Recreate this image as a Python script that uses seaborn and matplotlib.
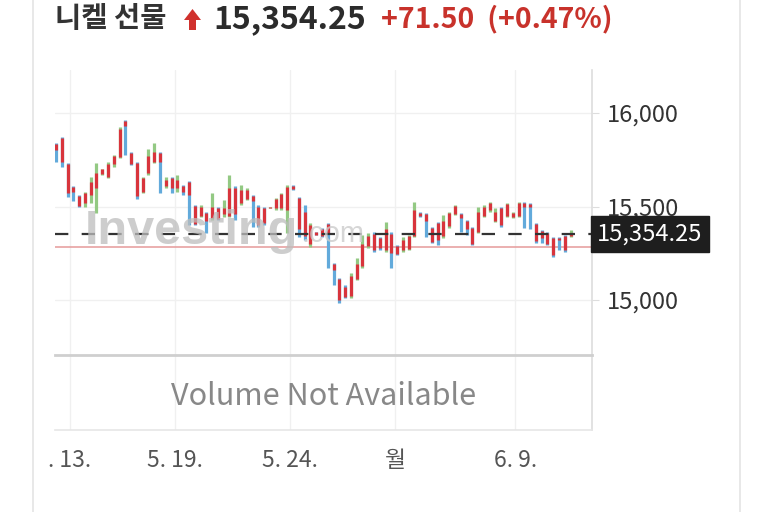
import numpy as np
import pandas as pd
import seaborn as sns
import matplotlib.pyplot as plt
from matplotlib.lines import Line2D
from matplotlib.patches import Polygon
from matplotlib.transforms import blended_transform_factory

# OHLC bars
highs = [15840, 15872, 15733, 15610, 15562, 15578, 15658, 15733, 15701, 15738,
         15775, 15925, 15963, 15791, 15738, 15658, 15808, 15840, 15791, 15658,
         15658, 15669, 15615, 15636, 15508, 15508, 15471, 15572, 15497, 15535,
         15669, 15610, 15615, 15599, 15562, 15508, 15497, 15500, 15545, 15572,
         15615, 15615, 15551, 15508, 15412, 15364, 15385, 15412, 15198, 15118,
         15080, 15144, 15225, 15348, 15358, 15364, 15337, 15417, 15364, 15294,
         15337, 15348, 15524, 15471, 15465, 15390, 15417, 15455, 15471, 15508,
         15465, 15428, 15390, 15497, 15508, 15524, 15492, 15497, 15519, 15471,
         15524, 15524, 15519, 15412, 15374, 15364, 15337, 15337, 15348, 15374]
lows = [15738, 15711, 15551, 15529, 15497, 15497, 15519, 15465, 15669, 15652,
        15711, 15759, 15775, 15722, 15540, 15572, 15669, 15733, 15572, 15599,
        15572, 15578, 15562, 15401, 15401, 15444, 15358, 15428, 15428, 15444,
        15444, 15428, 15508, 15535, 15390, 15390, 15401, 15490, 15481, 15481,
        15358, 15590, 15337, 15321, 15283, 15348, 15337, 15171, 15080, 14984,
        15011, 15011, 15107, 15171, 15278, 15257, 15267, 15257, 15171, 15241,
        15257, 15267, 15337, 15444, 15337, 15305, 15294, 15332, 15385, 15455,
        15364, 15348, 15294, 15358, 15444, 15471, 15417, 15390, 15444, 15440,
        15444, 15385, 15380, 15305, 15305, 15294, 15230, 15267, 15257, 15337]
opens = [15835, 15865, 15725, 15605, 15555, 15520, 15560, 15600, 15672, 15660,
         15730, 15765, 15955, 15785, 15735, 15580, 15680, 15740, 15785, 15610,
         15650, 15600, 15610, 15630, 15505, 15450, 15465, 15440, 15490, 15460,
         15450, 15600, 15520, 15540, 15555, 15500, 15490, 15492, 15490, 15490,
         15480, 15612, 15545, 15470, 15300, 15362, 15380, 15405, 15195, 15110,
         15070, 15020, 15110, 15180, 15290, 15355, 15330, 15270, 15355, 15290,
         15265, 15275, 15345, 15468, 15460, 15385, 15410, 15340, 15395, 15460,
         15460, 15420, 15385, 15365, 15450, 15480, 15425, 15490, 15450, 15445,
         15450, 15518, 15512, 15405, 15370, 15360, 15330, 15330, 15345, 15340]
closes = [15800, 15740, 15570, 15580, 15505, 15570, 15630, 15680, 15698, 15730,
          15770, 15915, 15930, 15730, 15555, 15650, 15770, 15790, 15740, 15640,
          15600, 15640, 15575, 15560, 15405, 15500, 15420, 15500, 15435, 15490,
          15600, 15460, 15590, 15590, 15530, 15400, 15410, 15498, 15540, 15565,
          15605, 15595, 15380, 15340, 15400, 15350, 15345, 15360, 15160, 15000,
          15015, 15130, 15190, 15300, 15340, 15265, 15280, 15380, 15250, 15245,
          15320, 15340, 15480, 15450, 15420, 15310, 15320, 15420, 15465, 15505,
          15440, 15380, 15300, 15470, 15500, 15520, 15470, 15400, 15515, 15465,
          15520, 15500, 15495, 15315, 15330, 15300, 15240, 15320, 15265, 15354.25]

tick_pos = [2.4, 20.6, 40.5, 58.7, 79.4]
tick_labels = [". 13.", "5. 19.", "5. 24.", "월", "6. 9."]
price_ticks = [15000, 15500, 16000]
last_price = 15354.25
prev_close = 15282.75

RED = "#d8343c"
BLUE = "#62aadb"
GREEN = "#93c983"
GRID = "#f0f0f0"

sns.set_style("white")
plt.rcParams['font.family'] = ['Noto Sans CJK KR', 'DejaVu Sans']

df = pd.DataFrame({"high": highs, "low": lows, "open": opens, "close": closes})
df["idx"] = np.arange(len(df))
df["up"] = df["close"] >= df["open"]

fig = plt.figure(figsize=(7.73, 5.12), dpi=100)
W, H = 773, 512

def box(x0, y0, x1, y1):
    return [x0 / W, 1 - y1 / H, (x1 - x0) / W, (y1 - y0) / H]

ax = fig.add_axes(box(55, 70, 592, 355))
axv = fig.add_axes(box(55, 355, 592, 430))

# bars: wick coloured by direction, body in red
up = df[df["up"]]
dn = df[~df["up"]]
ax.vlines(up["idx"], up["low"], up["high"], color=GREEN, lw=2.3, zorder=3)
ax.vlines(dn["idx"], dn["low"], dn["high"], color=BLUE, lw=2.3, zorder=3)
ax.vlines(df["idx"], df["open"], df["close"], color=RED, lw=2.3, zorder=4)

ax.axhline(prev_close, color="#e59a9a", lw=1.1, zorder=2)
ax.axhline(last_price, color="#333333", lw=1.6, ls=(0, (6, 6)), zorder=5)

xlim = (-0.17, 92.7)
ax.set_xlim(*xlim)
ax.set_ylim(14706, 16230)
ax.set_yticks(price_ticks)
ax.set_yticklabels([f"{v:,}" for v in price_ticks])
ax.yaxis.tick_right()
ax.tick_params(axis="y", length=5, color="#dddddd", labelsize=17,
               labelcolor="#333333", pad=6)
ax.set_xticks(tick_pos)
ax.tick_params(axis="x", length=0, labelbottom=False)
ax.grid(True, color=GRID, lw=1)
for s in ["top", "left", "bottom"]:
    ax.spines[s].set_visible(False)
ax.spines["right"].set_color("#dddddd")
ax.spines["right"].set_linewidth(1.2)

# watermark
ax.text(0.055, 0.435, "Investing", transform=ax.transAxes, fontsize=35,
        fontweight="bold", color="#bdbdbd", alpha=0.75, zorder=6,
        family=["Liberation Sans", "DejaVu Sans"], va="center")
ax.text(0.458, 0.425, ".com", transform=ax.transAxes, fontsize=21,
        color="#cccccc", alpha=0.8, zorder=6,
        family=["Liberation Sans", "DejaVu Sans"], va="center")

# last price label
tr = blended_transform_factory(ax.transAxes, ax.transData)
ax.text(1.01, last_price, "15,354.25", transform=tr, fontsize=17,
        color="white", va="center", ha="left", zorder=7, clip_on=False,
        bbox=dict(boxstyle="square,pad=0.28", fc="#1e1e1e", ec="#1e1e1e"))

# volume panel
axv.set_xlim(*xlim)
axv.set_ylim(0, 1)
axv.set_yticks([])
axv.set_xticks(tick_pos)
axv.set_xticklabels(tick_labels)
axv.tick_params(axis="x", length=9, color="#e6e6e6", labelsize=16.5,
                labelcolor="#555555", pad=5)
axv.grid(True, axis="x", color=GRID, lw=1)
axv.spines["left"].set_visible(False)
axv.spines["top"].set_color("#cfcfcf")
axv.spines["top"].set_linewidth(2)
axv.spines["bottom"].set_color("#e6e6e6")
axv.spines["bottom"].set_linewidth(1.2)
axv.spines["right"].set_color("#dddddd")
axv.spines["right"].set_linewidth(1.2)
axv.text(0.5, 0.45, "Volume Not Available", transform=axv.transAxes,
         ha="center", va="center", fontsize=22, color="#888888")

# card border
for xp in [33, 740]:
    fig.add_artist(Line2D([xp / W, xp / W], [0, 1], color="#e4e4e4", lw=1.2))

# header
fig.text(55 / W, 1 - 19 / H, "니켈 선물", fontsize=20.5, color="#333333",
         va="center", ha="left", fontweight="bold")
ax_pts = [(184, 20), (192.5, 9), (201, 20), (196, 20), (196, 30), (189, 30), (189, 20)]
fig.add_artist(Polygon([(x / W, 1 - y / H) for x, y in ax_pts], closed=True,
                       fc="#d0312d", ec="none", transform=fig.transFigure))
fig.text(213 / W, 1 - 19 / H, "15,354.25", fontsize=23, color="#2b2b2b",
         va="center", ha="left", fontweight="bold")
fig.text(381 / W, 1 - 19 / H, "+71.50  (+0.47%)", fontsize=20.5, color="#c8322b",
         va="center", ha="left", fontweight="bold")

fig.savefig("out.png", dpi=100, facecolor="white")
